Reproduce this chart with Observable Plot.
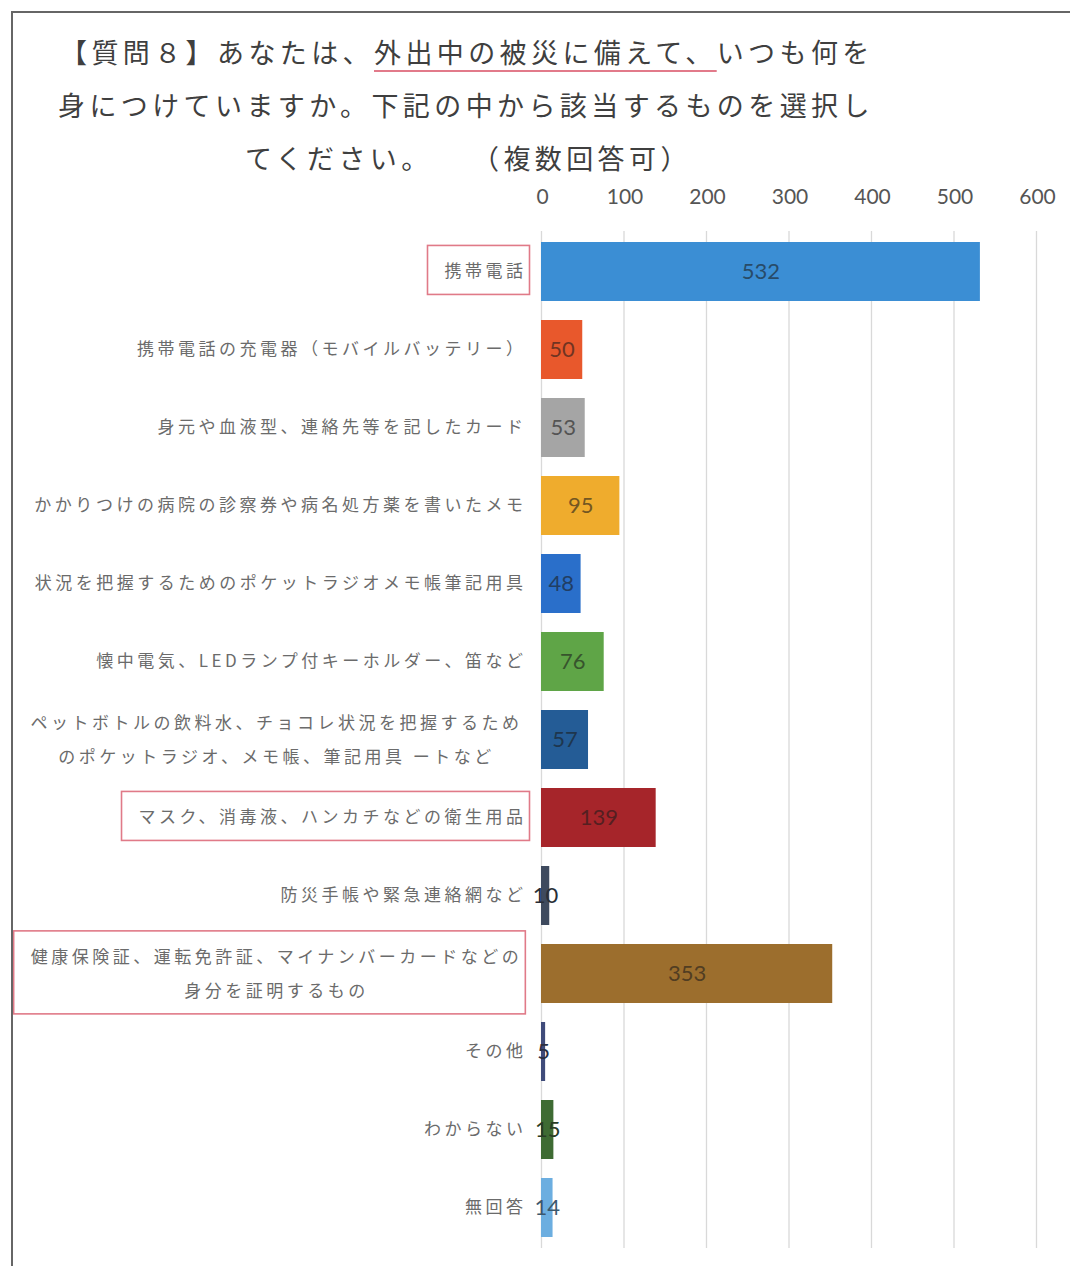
<!DOCTYPE html>
<html>
<head>
<meta charset="utf-8">
<script src="https://cdn.jsdelivr.net/npm/d3@7"></script>
<script src="https://cdn.jsdelivr.net/npm/@observablehq/plot@0.6"></script>
<style>
  body { margin: 0; background: #fff; }
  #wrap { position: relative; width: 1070px; height: 1266px; overflow: hidden; background: #fff;
          font-family: "Noto Sans CJK JP", sans-serif; }
  #frame { position: absolute; left: 11px; top: 11px; width: 1200px; height: 1400px;
           border-left: 2px solid #666; border-top: 2px solid #666; z-index: 3; pointer-events: none; }
  .t { position: absolute; font-size: 27px; letter-spacing: 4.4px; color: #3f3f3f;
       white-space: nowrap; line-height: 28px; z-index: 2; }
  .u { text-decoration: underline; text-decoration-color: #e27a8a; text-decoration-thickness: 2px;
       text-underline-offset: 7px; }
  #chart { position: absolute; left: 0; top: 175px; z-index: 1; }
</style>
</head>
<body>
<div id="wrap">
  <div id="frame"></div>
  <div class="t" style="left:60px;top:38px">【質問８】あなたは、<span class="u">外出中の被災に備えて、</span>いつも何を</div>
  <div class="t" style="left:58px;top:91px">身につけていますか。下記の中から該当するものを選択し</div>
  <div class="t" style="left:245px;top:144px">てください。</div>
  <div class="t" style="left:472px;top:144px">（複数回答可）</div>
  <div id="chart"></div>
</div>
<script>
const categories = [
  "携帯電話",
  "携帯電話の充電器（モバイルバッテリー）",
  "身元や血液型、連絡先等を記したカード",
  "かかりつけの病院の診察券や病名処方薬を書いたメモ",
  "状況を把握するためのポケットラジオメモ帳筆記用具",
  "懐中電気、LEDランプ付キーホルダー、笛など",
  "ペットボトルの飲料水、チョコレ状況を把握するため\nのポケットラジオ、メモ帳、筆記用具 ートなど",
  "マスク、消毒液、ハンカチなどの衛生用品",
  "防災手帳や緊急連絡網など",
  "健康保険証、運転免許証、マイナンバーカードなどの\n身分を証明するもの",
  "その他",
  "わからない",
  "無回答"
];
const values = [532, 50, 53, 95, 48, 76, 57, 139, 10, 353, 5, 15, 14];
const barColors = ["#3b8ed4", "#e8582c", "#a5a5a5", "#efac2d", "#2a6fca", "#5fa547", "#245c96",
                   "#a6252a", "#3e4a5e", "#9c6e2d", "#3f4b7a", "#3e6b33", "#6caee0"];
const highlighted = [
  "携帯電話",
  "マスク、消毒液、ハンカチなどの衛生用品",
  "健康保険証、運転免許証、マイナンバーカードなどの\n身分を証明するもの"
];
const xTicks = [0, 100, 200, 300, 400, 500, 600];

const data = categories.map((c, i) => ({
  cat: c,
  value: values[i],
  labelColor: d3.interpolateRgb(barColors[i], "#1a1a1a")(0.58)
}));
const single = data.filter(d => !d.cat.includes("\n"));
const multi = data.filter(d => d.cat.includes("\n"));

const plot = Plot.plot({
  width: 1070,
  height: 1091,
  marginLeft: 541,
  marginRight: 34,
  marginTop: 56,
  marginBottom: 18,
  style: { background: "transparent" },
  x: { domain: [0, 600], axis: null, label: null },
  y: { domain: categories, paddingInner: 0.25, paddingOuter: 0.12, axis: null, label: null },
  color: { domain: categories, range: barColors },
  marks: [
    Plot.ruleX(xTicks, { stroke: "#d9d9d9", strokeWidth: 1.3 }),
    Plot.axisX(xTicks, {
      anchor: "top", tickSize: 0, tickPadding: 28, dx: 1, label: null,
      fontSize: 21, fontFamily: "Lato, 'Open Sans', sans-serif", color: "#555"
    }),
    Plot.barX(data, { x: "value", y: "cat", fill: "cat" }),
    Plot.text(data, {
      x: d => d.value / 2, y: "cat", text: d => String(d.value),
      fill: "labelColor", fontSize: 22, fontFamily: "Lato, 'Open Sans', sans-serif"
    }),
    Plot.text(single, {
      y: "cat", text: "cat", frameAnchor: "left", textAnchor: "end", dx: -15,
      fontSize: 17, fill: "#6b6b6b", fontFamily: "Noto Sans CJK JP"
    }),
    Plot.text(multi, {
      y: "cat", text: "cat", frameAnchor: "left", textAnchor: "middle", dx: -265, dy: -5,
      lineHeight: 2.0,
      fontSize: 17, fill: "#6b6b6b", fontFamily: "Noto Sans CJK JP"
    })
  ]
});

document.getElementById("chart").append(plot);

const flatCats = categories.map(c => c.replace(/\n/g, ""));
const flatHi = highlighted.map(h => h.replace(/\n/g, ""));
const labels = d3.select(plot).selectAll("text")
  .filter(function () { return flatCats.includes(this.textContent.replace(/\n/g, "")); });
labels.style("letter-spacing", "3.5px");
const NS = "http://www.w3.org/2000/svg";
labels.each(function () {
  const t = this.textContent.replace(/\n/g, "");
  if (!flatHi.includes(t)) return;
  const b = this.getBBox();
  const padL = 17, padR = 3, padV = 12;
  const r = document.createElementNS(NS, "rect");
  r.setAttribute("x", b.x - padL);
  r.setAttribute("y", b.y - padV);
  r.setAttribute("width", b.width + padL + padR);
  r.setAttribute("height", b.height + 2 * padV);
  r.setAttribute("fill", "none");
  r.setAttribute("stroke", "#e07a88");
  r.setAttribute("stroke-width", "1.6");
  const tr = this.getAttribute("transform");
  if (tr) r.setAttribute("transform", tr);
  this.parentNode.appendChild(r);
});
</script>
</body>
</html>
